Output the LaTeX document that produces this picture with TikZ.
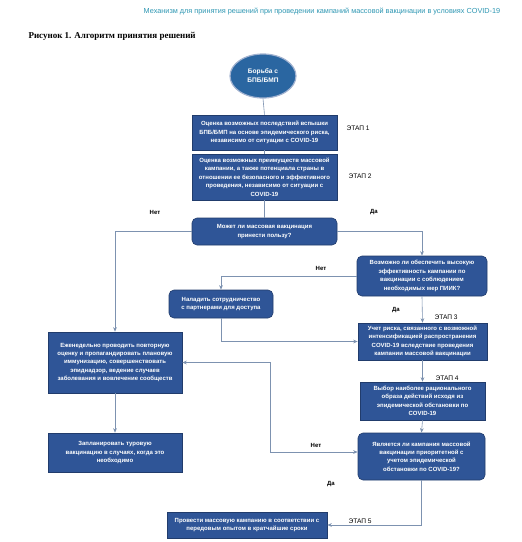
\documentclass[tikz,border=0pt]{standalone}
\usepackage{fontspec}
\setmainfont{Liberation Sans}
\newfontfamily\capfont{Liberation Serif}
\usepackage{tikz}
\usetikzlibrary{positioning,arrows.meta,shapes.geometric}
\definecolor{boxblue}{RGB}{47,85,151}
\definecolor{boxedge}{RGB}{33,60,108}
\definecolor{linkgray}{RGB}{125,146,176}
\definecolor{headteal}{RGB}{45,150,178}

\begin{document}
\begin{tikzpicture}[x=1pt, y=-1pt, font=\fontsize{6}{8.4}\selectfont,
  sbox/.style={draw=boxedge, fill=boxblue, text=white, align=center,
    font=\fontsize{6}{8.4}\selectfont\bfseries, inner sep=1pt, line width=0.6pt},
  qbox/.style={sbox, rounded corners=5pt},
  startnode/.style={sbox, ellipse, fill=boxblue!90!cyan, draw=boxblue!45, line width=1.2pt,
    font=\fontsize{6.6}{9}\selectfont\bfseries},
  lbl/.style={font=\fontsize{6}{7}\selectfont\bfseries},
  stage/.style={font=\fontsize{6.6}{7}\selectfont, anchor=west},
  link/.style={draw=linkgray, line width=0.6pt},
  arr/.style={link, -{Stealth[length=1.6mm, width=1.3mm]}}]
\useasboundingbox (0,0) rectangle (522,542);
% headings
\node[text=headteal, font=\fontsize{7.3}{8}\selectfont] (head) at (322,12) {Механизм для принятия решений при проведении кампаний массовой вакцинации в условиях COVID-19};
\node[anchor=west, font=\capfont\fontsize{9}{10}\selectfont\bfseries] (cap) at (25,36) {Рисунок 1. Алгоритм принятия решений};
% main column
\node[startnode, minimum width=66, minimum height=44] (start) at (263,76) {Борьба с\\БПБ/БМП};
\node[sbox, minimum width=145, minimum height=35] (st1) at (264.5,132.5) {Оценка возможных последствий вспышки\\БПБ/БМП на основе эпидемического риска,\\независимо от ситуации с COVID-19};
\node[sbox, minimum width=145, minimum height=46] (st2) at (264.5,177) {Оценка возможных преимуществ массовой\\кампании, а также потенциала страны в\\отношении ее безопасного и эффективного\\проведения, независимо от ситуации с\\COVID-19};
\node[qbox, minimum width=145, minimum height=27] (q1) at (264.5,231.5) {Может ли массовая вакцинация\\принести пользу?};
% right column
\node[qbox, minimum width=130, minimum height=40] (q2) at (422,276) {Возможно ли обеспечить высокую\\эффективность кампании по\\вакцинации с соблюдением\\необходимых мер ПИИК?};
\node[qbox, minimum width=104, minimum height=28] (partner) at (221,304) {Наладить сотрудничество\\с партнерами для доступа};
\node[sbox, minimum width=129, minimum height=37] (st3) at (422.5,341.5) {Учет риска, связанного с возможной\\интенсификацией распространения\\COVID-19 вследствие проведения\\кампании массовой вакцинации};
\node[sbox, minimum width=125, minimum height=38] (st4) at (422.5,401) {Выбор наиболее рационального\\образа действий исходя из\\эпидемической обстановки по\\COVID-19};
\node[qbox, minimum width=127, minimum height=47] (q3) at (421.5,456.5) {Является ли кампания массовой\\вакцинации приоритетной с\\учетом эпидемической\\обстановки по COVID-19?};
% left column
\node[sbox, minimum width=134, minimum height=61] (weekly) at (115,362.5) {Еженедельно проводить повторную\\оценку и пропагандировать плановую\\иммунизацию, совершенствовать\\эпиднадзор, ведение случаев\\заболевания и вовлечение сообществ};
\node[sbox, minimum width=134, minimum height=39] (tour) at (115,452.5) {Запланировать туровую\\вакцинацию в случаях, когда это\\необходимо};
\node[sbox, minimum width=160, minimum height=26] (final) at (247,525) {Провести массовую кампанию в соответствии с\\передовым опытом в кратчайшие сроки};
% stage marks
\node[stage] (e1) at (343,128) {ЭТАП 1};
\node[stage] (e2) at (345,176) {ЭТАП 2};
\node[stage] (e3) at (431,317) {ЭТАП 3};
\node[stage] (e4) at (432,378) {ЭТАП 4};
\node[stage] (e5) at (345,521) {ЭТАП 5};
% answers
\node[lbl] (no1) at (155,212) {Нет};
\node[lbl] (yes1) at (374,212) {Да};
\node[lbl] (no2) at (321,268) {Нет};
\node[lbl] (yes2) at (396,310) {Да};
\node[lbl] (no3) at (316,445) {Нет};
\node[lbl] (yes3) at (331,484) {Да};
\coordinate (back) at (270,452);
% links
\draw[link] (start.south) -- (st1.north);
\draw[link] (st1.south) -- (st2.north);
\draw[link] (st2.south) -- (q1.north);
\draw[arr] (q1.west) -| (weekly.north);
\draw[arr] (q1.east) -| (q2.north);
\draw[arr] (q2.west) -| (partner.north);
\draw[arr] (q2.south) -- (st3.north);
\draw[arr] (partner.south) |- (st3.west);
\draw[arr] (st3.south) -- (st4.north);
\draw[arr] (st4.south) -- (q3.north);
\draw[arr] (back) -- (back -| q3.west);
\draw[arr] (back) |- (weekly.east);
\draw[arr] (weekly.south) -- (tour.north);
\draw[arr] (q3.south) |- (final.east);
\end{tikzpicture}
\end{document}
